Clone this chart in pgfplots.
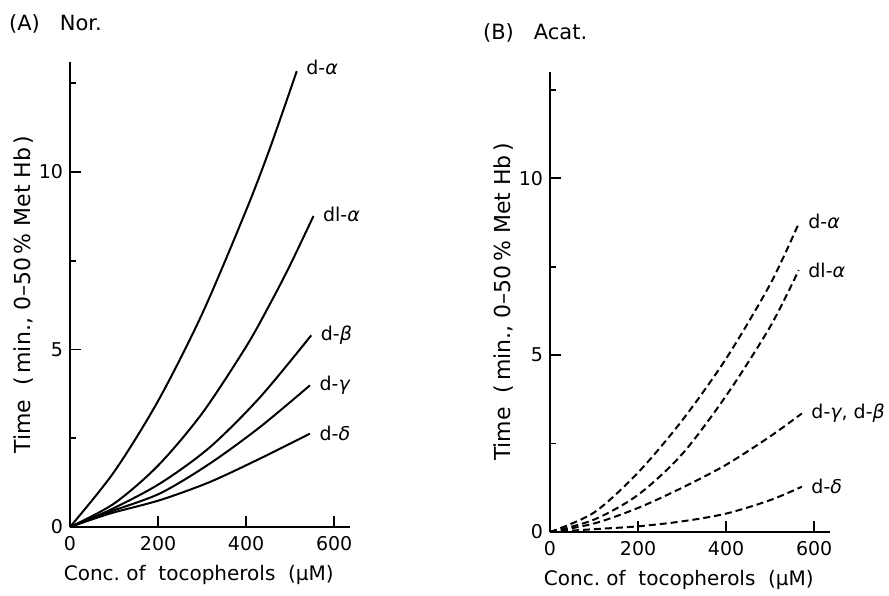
\documentclass[border=0pt]{standalone}
\usepackage{fontspec}
\setmainfont{DejaVu Sans}
\usepackage{pgfplots}
\pgfplotsset{compat=1.18}

\tikzset{
  lab/.style={pos=1, anchor=west, xshift=1pt, font=\fontsize{9.5}{11}\selectfont},
  sld/.style={black, line width=1pt, smooth},
  dsh/.style={black, line width=1pt, smooth, dash pattern=on 3.5pt off 2pt},
}

\pgfplotsset{
  toco/.style={
    scale only axis, width=140pt, clip=false,
    axis lines=left, axis line style={-, line width=1pt},
    xmin=0, xmax=636, ymin=0,
    xtick={0,200,400,600}, ytick={0,5,10}, minor ytick={2.5,7.5,12.5},
    tick align=inside, major tick length=5.5pt, minor tick length=3pt,
    every tick/.style={black, line width=0.9pt},
    /pgf/number format/assume math mode=true,
    tick label style={font=\fontsize{9.5}{11}\selectfont},
    x tick label style={yshift=-1pt},
    xlabel={Conc.\ of\ \ tocopherols\ \ (μM)},
    ylabel={Time\ \ (\,min.,\ 0–50\,\%\ Met\ Hb\,)},
    every axis x label/.style={at={([yshift=-24pt]axis description cs:0.46,0)}, anchor=center},
    every axis y label/.style={at={([xshift=-23pt]axis description cs:0,0.5)}, rotate=90, anchor=center},
    xlabel style={font=\fontsize{10}{12}\selectfont},
    ylabel style={font=\fontsize{11}{13}\selectfont},
  },
}

\begin{document}
\begin{tikzpicture}
\useasboundingbox (0,0) rectangle (444.5pt,297.5pt);

\node[anchor=west, font=\fontsize{10.5}{12}\selectfont] at (1pt,285.5pt) {(A)\ \ \ Nor.};
\node[anchor=west, font=\fontsize{10.5}{12}\selectfont] at (238pt,281pt) {(B)\ \ \ Acat.};

% (A) normal erythrocytes
\begin{axis}[toco, at={(35pt,34pt)}, anchor=origin, height=232.5pt, ymax=13.1]
  \addplot[sld] coordinates {(0,0) (100,1.55) (200,3.55) (300,6.0) (400,8.92) (455,10.7) (515,12.84)}
    node[lab, yshift=2pt] {d-\textit{α}};
  \addplot[sld] coordinates {(0,0) (100,0.66) (200,1.73) (300,3.2) (400,5.08) (455,6.3) (500,7.38) (553,8.76)}
    node[lab, yshift=1pt] {dl-\textit{α}};
  \addplot[sld] coordinates {(0,0) (91,0.48) (205,1.23) (318,2.25) (432,3.66) (548,5.4)}
    node[lab] {d-\textit{β}};
  \addplot[sld] coordinates {(0,0) (91,0.43) (205,0.95) (318,1.79) (432,2.82) (545,3.99)}
    node[lab] {d-\textit{γ}};
  \addplot[sld] coordinates {(0,0) (91,0.38) (205,0.76) (318,1.27) (432,1.93) (545,2.63)}
    node[lab] {d-\textit{δ}};
\end{axis}

% (B) acatalasemic erythrocytes
\begin{axis}[toco, at={(275pt,31.5pt)}, anchor=origin, height=230pt, ymax=13.0]
  \addplot[dsh] coordinates {(0,0) (100,0.55) (200,1.68) (300,3.15) (400,4.9) (500,7.0) (565,8.72)}
    node[lab, yshift=1pt] {d-\textit{α}};
  \addplot[dsh] coordinates {(0,0) (100,0.35) (200,1.05) (300,2.2) (400,3.85) (500,5.8) (565,7.4)}
    node[lab] {dl-\textit{α}};
  \addplot[dsh] coordinates {(0,0) (100,0.24) (200,0.68) (300,1.25) (400,1.9) (500,2.7) (572,3.35)}
    node[lab] {d-\textit{γ}, d-\textit{β}};
  \addplot[dsh] coordinates {(0,0) (100,0.08) (200,0.16) (300,0.3) (400,0.52) (500,0.9) (572,1.28)}
    node[lab] {d-\textit{δ}};
\end{axis}
\end{tikzpicture}
\end{document}
